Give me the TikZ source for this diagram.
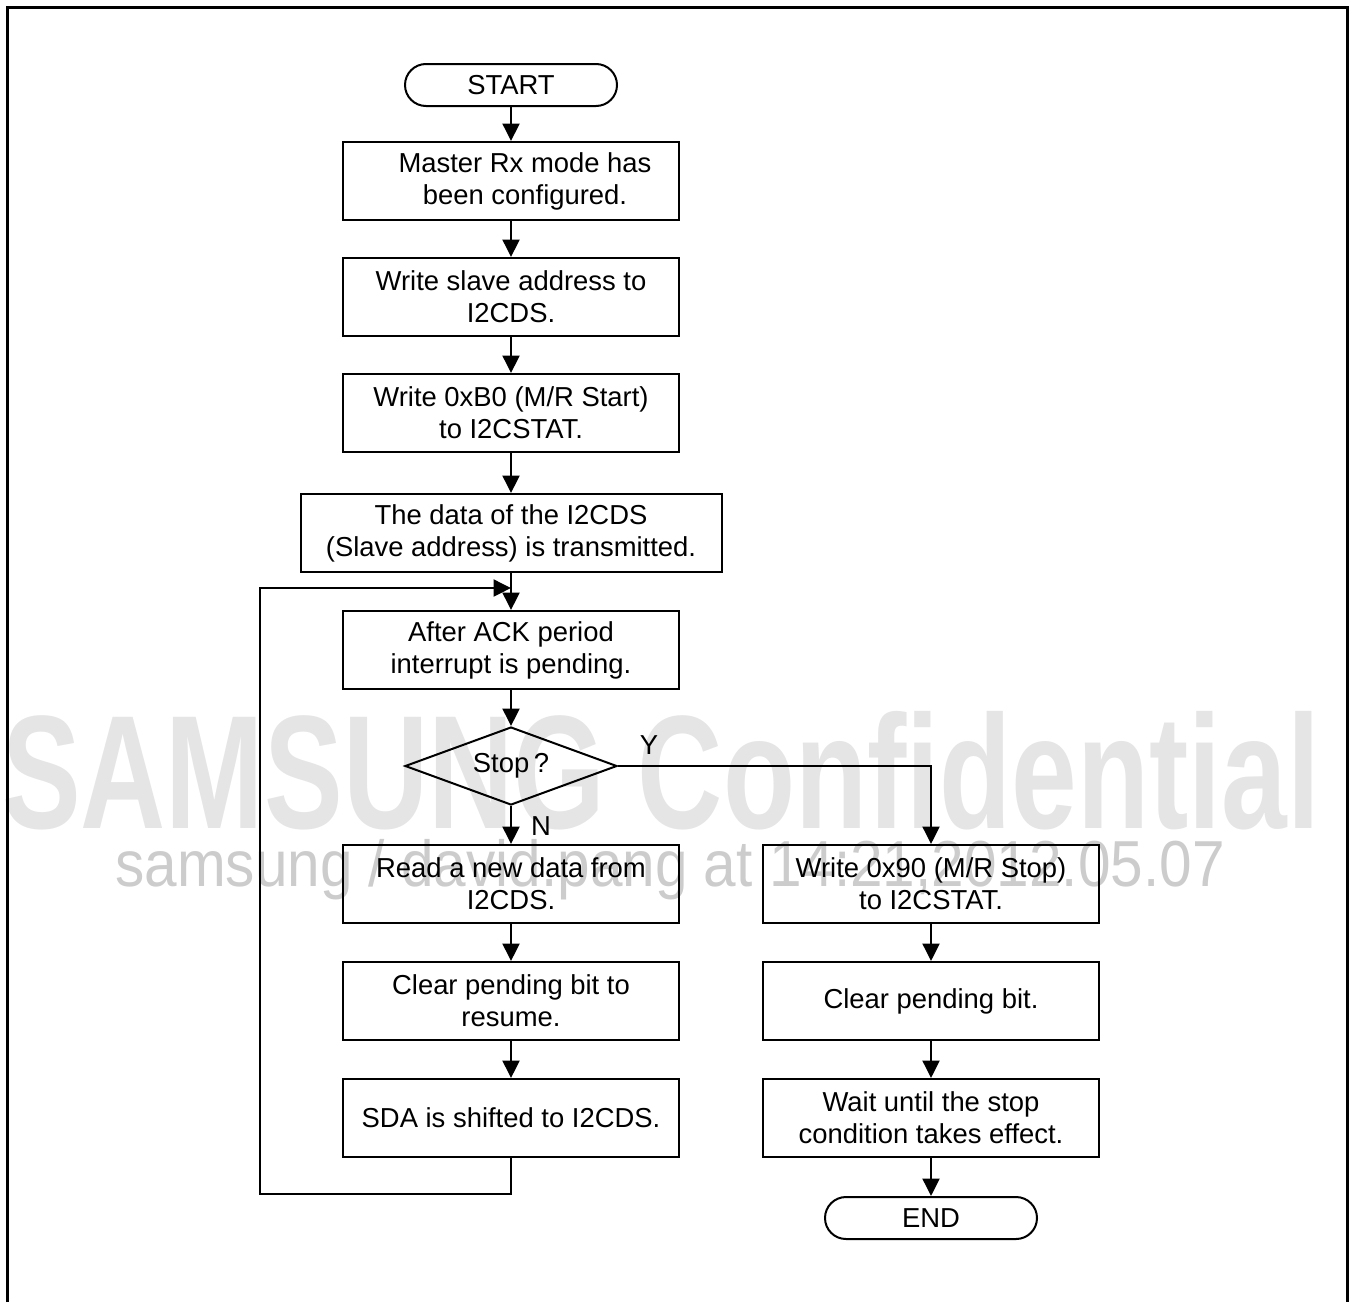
\documentclass[tikz,border=0pt]{standalone}
\usepackage{fontspec}
\setmainfont{Liberation Sans}
\usetikzlibrary{shapes.geometric,arrows.meta}
\definecolor{wmlight}{gray}{0.9}
\definecolor{wmdark}{gray}{0.8}

\begin{document}
\begin{tikzpicture}[x=0.2mm,y=-0.2mm,
    box/.style={draw,line width=0.4mm,minimum width=67.2mm,minimum height=15.6mm,align=center,inner sep=0pt},
    term/.style={draw,line width=0.4mm,rounded corners=4.2mm,minimum width=42.4mm,minimum height=8.4mm,inner sep=0pt},
    decide/.style={draw,line width=0.4mm,diamond,aspect=2.72,minimum width=42.4mm,minimum height=15.6mm,inner sep=0pt},
    arr/.style={line width=0.4mm,-{Triangle[length=3.5mm,width=3.4mm]}},
    font=\fontsize{15.6pt}{18.2pt}\selectfont]
    \useasboundingbox (0,0) rectangle (1353,1302);
    % watermark
    \node[anchor=base,text=wmlight,xscale=0.73,font=\fontsize{92pt}{92pt}\selectfont\bfseries] (wm) at (661,828) {SAMSUNG Confidential};
    \node[anchor=base,text=wmdark,xscale=0.9,font=\fontsize{37pt}{37pt}\selectfont] (wmsub) at (670,886) {samsung / david.pang at 14:21,2012.05.07};
    \draw[line width=0.6mm] (7,1302) -- (7,7) -- (1347,7) -- (1347,1302);

    \node[term] (start) at (511,85) {START};
    \node[box] (conf) at (511,181) {\hspace*{5.6mm}Master Rx mode has\\\hspace*{5.6mm}been configured.};
    \node[box] (addr) at (511,297) {Write slave address to\\I2CDS.};
    \node[box] (wstart) at (511,413) {Write 0xB0 (M/R Start)\\to I2CSTAT.};
    \node[box,minimum width=84.2mm] (send) at (511,533) {The data of the I2CDS\\(Slave address) is transmitted.};
    \node[box] (ack) at (511,650) {After ACK period\\interrupt is pending.};
    \node[decide] (stop) at (511,766) {Stop\,?};
    \node[box] (read) at (511,884) {Read a new data from\\I2CDS.};
    \node[box] (clr) at (511,1001) {Clear pending bit to\\resume.};
    \node[box] (shift) at (511,1118) {SDA is shifted to I2CDS.};
    \node[box] (wstop) at (931,884) {Write 0x90 (M/R Stop)\\to I2CSTAT.};
    \node[box] (clrend) at (931,1001) {Clear pending bit.};
    \node[box] (wait) at (931,1118) {Wait until the stop\\condition takes effect.};
    \node[term] (end) at (931,1218) {END};
    \node (yes) at (649,745) {Y};
    \node (no) at (541,826) {N};

    \coordinate (join) at (511,588);
    \coordinate (loopbl) at (260,1194);
    \draw[arr] (start) -- (conf);
    \draw[arr] (conf) -- (addr);
    \draw[arr] (addr) -- (wstart);
    \draw[arr] (wstart) -- (send);
    \draw[arr] (send) -- (ack);
    \draw[arr] (ack) -- (stop);
    \draw[arr] (stop) -- (read);
    \draw[arr] (read) -- (clr);
    \draw[arr] (clr) -- (shift);
    \draw[arr] (shift.south) |- (loopbl) |- (join);
    \draw[arr] (stop.east) -| (wstop.north);
    \draw[arr] (wstop) -- (clrend);
    \draw[arr] (clrend) -- (wait);
    \draw[arr] (wait) -- (end);
\end{tikzpicture}
\end{document}
